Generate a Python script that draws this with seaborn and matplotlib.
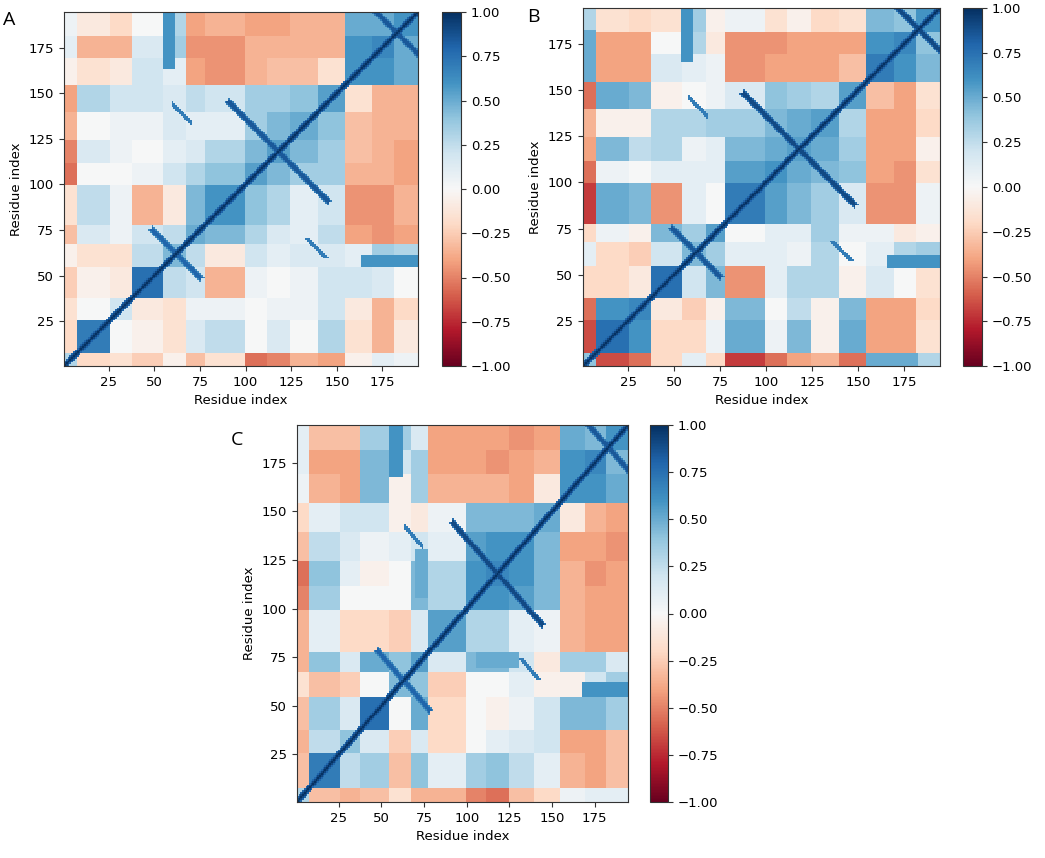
# plot.py -- dynamic cross-correlation maps, three panels (A, B, C)

# ---- dependencies {{{
import numpy as np
import pandas as pd
import matplotlib
matplotlib.use('Agg')
import matplotlib.pyplot as plt
import seaborn as sns
#}}}

n_res = 194
# residue where each structural segment starts (last one runs to n_res)
seg_starts = [1, 8, 26, 38, 55, 68, 78, 100, 112, 125, 140, 155, 170, 182]
tick_residues = [25, 50, 75, 100, 125, 150, 175]
cbar_ticks = [-1.0, -0.75, -0.5, -0.25, 0.0, 0.25, 0.5, 0.75, 1.0]
# correlation along the main diagonal by offset (0, 1, 2 residues)
diag_band = [1.0, 0.92, 0.8]

# mean correlation between segments, upper triangle, row i starts at column i
blocks_a = [
	[0.3, -0.2, -0.15, -0.25, -0.05, -0.3, -0.15, -0.55, -0.5, -0.35, -0.4, -0.05, 0.1, 0.05],
	[0.7, 0.0, -0.05, -0.15, 0.15, 0.25, 0.0, 0.15, 0.0, 0.3, -0.15, -0.35, -0.1],
	[0.2, -0.1, -0.15, 0.05, 0.05, 0.0, 0.05, 0.05, 0.2, -0.1, -0.35, -0.2],
	[0.75, 0.25, 0.2, -0.35, 0.05, 0.0, 0.05, 0.2, 0.2, 0.15, 0.0],
	[0.45, 0.25, -0.1, 0.2, 0.1, 0.15, 0.15, 0.1, 0.35, 0.3],
	[0.5, 0.45, 0.3, 0.15, 0.1, 0.25, -0.4, -0.45, -0.4],
	[0.6, 0.4, 0.3, 0.1, 0.2, -0.45, -0.45, -0.35],
	[0.55, 0.45, 0.35, 0.35, -0.35, -0.35, -0.4],
	[0.55, 0.45, 0.35, -0.3, -0.35, -0.4],
	[0.5, 0.4, -0.3, -0.35, -0.35],
	[0.55, -0.15, -0.35, -0.35],
	[0.6, 0.6, 0.5],
	[0.65, 0.5],
	[0.6],
]
blocks_b = [
	[0.4, -0.65, -0.55, -0.2, 0.1, -0.2, -0.7, -0.55, -0.4, -0.35, -0.55, 0.35, 0.3, 0.3],
	[0.75, 0.6, -0.2, -0.2, 0.05, 0.5, 0.05, 0.45, -0.05, 0.5, -0.4, -0.4, -0.15],
	[0.65, -0.1, -0.25, -0.05, 0.45, 0.0, 0.25, -0.05, 0.45, -0.4, -0.4, -0.2],
	[0.75, 0.2, 0.45, -0.45, 0.1, 0.3, 0.3, -0.05, 0.15, 0.0, -0.15],
	[0.45, 0.35, 0.1, 0.1, 0.05, 0.3, 0.0, 0.1, 0.3, 0.35],
	[0.55, 0.0, 0.1, 0.1, 0.35, 0.05, 0.05, -0.1, -0.05],
	[0.7, 0.55, 0.45, 0.35, 0.15, -0.45, -0.45, 0.05],
	[0.6, 0.5, 0.45, 0.4, -0.4, -0.45, -0.15],
	[0.55, 0.5, 0.35, -0.4, -0.4, -0.05],
	[0.55, 0.3, -0.4, -0.4, -0.2],
	[0.55, -0.3, -0.4, -0.15],
	[0.7, 0.6, 0.45],
	[0.65, 0.4],
	[0.6],
]
blocks_c = [
	[0.3, -0.3, -0.35, -0.3, -0.15, -0.35, -0.35, -0.5, -0.55, -0.3, -0.2, 0.05, 0.1, 0.1],
	[0.7, 0.25, 0.35, -0.3, 0.4, 0.1, 0.35, 0.4, 0.25, 0.1, -0.35, -0.4, -0.3],
	[0.4, 0.15, -0.25, 0.15, -0.2, 0.0, 0.1, 0.15, 0.2, -0.4, -0.4, -0.3],
	[0.75, 0.0, 0.5, -0.2, 0.0, -0.05, 0.05, 0.2, 0.45, 0.45, 0.35],
	[0.45, 0.4, -0.25, 0.0, 0.0, 0.1, -0.05, -0.05, 0.2, 0.35],
	[0.55, 0.15, 0.45, 0.45, 0.2, -0.1, 0.35, 0.35, 0.15],
	[0.55, 0.3, 0.3, 0.1, 0.05, -0.35, -0.4, -0.4],
	[0.6, 0.6, 0.55, 0.45, -0.35, -0.4, -0.4],
	[0.65, 0.6, 0.45, -0.35, -0.45, -0.4],
	[0.6, 0.45, -0.4, -0.4, -0.45],
	[0.5, -0.1, -0.35, -0.4],
	[0.6, 0.6, 0.5],
	[0.65, 0.45],
	[0.6],
]

# hairpin crosses (anti-diagonal arms): centre residue, half length, value
hairpins_a = [(62, 13, 0.8), (118, 27, 0.85), (183, 12, 0.85)]
hairpins_b = [(62, 13, 0.85), (118, 30, 0.9), (183, 12, 0.9)]
hairpins_c = [(63, 15, 0.8), (118, 26, 0.9), (183, 12, 0.85)]

# short anti-diagonal streaks away from the diagonal: x from, x to, x + y, value
streaks_a = [(60, 70, 204, 0.7)]
streaks_b = [(58, 68, 204, 0.7)]
streaks_c = [(64, 74, 206, 0.7)]

# coupled patches: x from, x to, y from, y to, value
patches_a = [(55, 61, 164, 194, 0.6)]
patches_b = [(54, 60, 166, 194, 0.6), (1, 7, 155, 182, 0.5)]
patches_c = [(55, 62, 168, 194, 0.6), (70, 77, 106, 130, 0.5)]
#}}}

# ---- support methods {{{
def put_sym(mat, i, j, val):
	if 0 <= i < n_res and 0 <= j < n_res:
		mat[i, j] = max(mat[i, j], val)
		mat[j, i] = max(mat[j, i], val)


def build_matrix(blocks, hairpins, streaks, patches):
	"""Expand segment blocks to a residue x residue matrix."""
	k = len(seg_starts)
	coarse = np.zeros((k, k))
	for i, row in enumerate(blocks):
		coarse[i, i:] = row
		coarse[i:, i] = row
	lengths = np.diff(seg_starts + [n_res + 1])
	mat = np.repeat(np.repeat(coarse, lengths, axis=0), lengths, axis=1)

	# coupled patches, kept symmetric
	for x0, x1, y0, y1, val in patches:
		mat[y0 - 1:y1, x0 - 1:x1] = val
		mat[x0 - 1:x1, y0 - 1:y1] = val

	# main diagonal
	for off, val in enumerate(diag_band):
		i = np.arange(n_res - off)
		mat[i, i + off] = np.maximum(mat[i, i + off], val)
		mat[i + off, i] = np.maximum(mat[i + off, i], val)

	# anti-diagonal arms of the hairpins
	for centre, half, val in hairpins:
		for s in range(-half, half + 1):
			i = centre - 1 + s
			for w in (-2, -1, 0, 1, 2):
				v = val if abs(w) < 2 else val - 0.15
				put_sym(mat, i, centre - 1 - s + w, v)

	# isolated streaks
	for x0, x1, total, val in streaks:
		for x in range(x0, x1 + 1):
			for w in (-1, 0, 1):
				put_sym(mat, x - 1, total - x - 1 + w, val)
	return mat


def draw_panel(fig, mat, ax_rect, cbar_rect, letter, letter_xy):
	ax = fig.add_axes(ax_rect)
	cax = fig.add_axes(cbar_rect)
	residues = np.arange(1, n_res + 1)
	df = pd.DataFrame(mat, index=residues, columns=residues)
	sns.heatmap(df, ax=ax, cbar_ax=cax, cmap='RdBu', vmin=-1, vmax=1,
	            xticklabels=False, yticklabels=False)
	ax.invert_yaxis()

	pos = [r - 0.5 for r in tick_residues]
	ax.set_xticks(pos)
	ax.set_xticklabels([str(r) for r in tick_residues], rotation=0)
	ax.set_yticks(pos)
	ax.set_yticklabels([str(r) for r in tick_residues], rotation=0)
	ax.tick_params(length=3.5, width=0.8, labelsize=9.5, color='#333333')
	ax.set_xlabel('Residue index', fontsize=9.5)
	ax.set_ylabel('Residue index', fontsize=9.5)
	for sp in ax.spines.values():
		sp.set_visible(True)
		sp.set_linewidth(0.8)
		sp.set_color('#333333')

	cbar = ax.collections[0].colorbar
	cbar.set_ticks(cbar_ticks)
	cbar.set_ticklabels([f'{t:.2f}'.replace('-', '\u2212') for t in cbar_ticks])
	cbar.outline.set_visible(True)
	cbar.outline.set_linewidth(0.8)
	cbar.outline.set_edgecolor('#333333')
	cax.tick_params(length=3.5, width=0.8, labelsize=9.5, color='#333333')

	fig.text(letter_xy[0], letter_xy[1], letter, fontsize=14,
	         family='Open Sans', ha='left', va='center')
#}}}


def main():
	W, H = 1045, 858
	fig = plt.figure(figsize=(W / 100, H / 100), dpi=100)

	def rect(x0, y0, x1, y1):
		return [x0 / W, 1 - y1 / H, (x1 - x0) / W, (y1 - y0) / H]

	draw_panel(fig, build_matrix(blocks_a, hairpins_a, streaks_a, patches_a),
	           rect(64, 12, 418, 366), rect(442, 12, 461, 366),
	           'A', (3 / W, 1 - 20 / H))
	draw_panel(fig, build_matrix(blocks_b, hairpins_b, streaks_b, patches_b),
	           rect(583, 8, 940, 366), rect(963, 8, 982, 366),
	           'B', (527 / W, 1 - 17 / H))
	draw_panel(fig, build_matrix(blocks_c, hairpins_c, streaks_c, patches_c),
	           rect(297, 425, 628, 802), rect(650, 425, 668, 802),
	           'C', (231 / W, 1 - 440 / H))

	fig.savefig('out.png', dpi=100)
	plt.close(fig)


if __name__ == '__main__':
	main()
# done.
